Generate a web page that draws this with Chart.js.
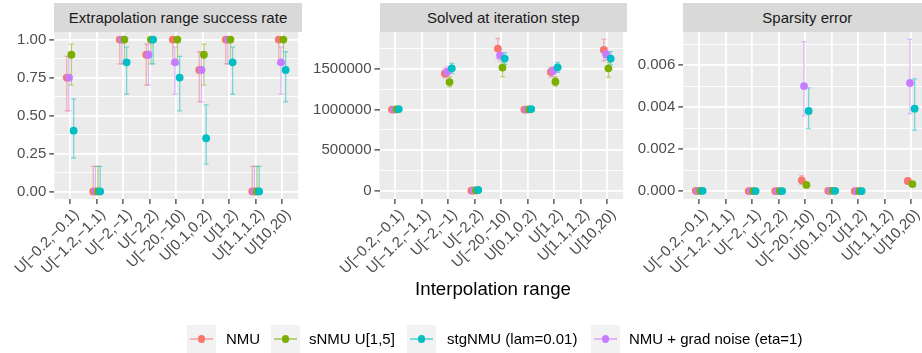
<!DOCTYPE html>
<html><head><meta charset="utf-8">
<script src="https://cdn.jsdelivr.net/npm/chart.js@4.4.1/dist/chart.umd.min.js"></script>
<style>
html,body{margin:0;padding:0;width:922px;height:353px;overflow:hidden;background:#fff;font-family:"Liberation Sans",Arial,sans-serif;}
.panel{position:absolute;top:0;height:353px;}
.strip{position:absolute;top:3px;height:29px;background:#D9D9D9;color:#1A1A1A;font-size:15px;line-height:29px;text-align:center;white-space:nowrap;}
.xtitle{position:absolute;left:0;width:986px;top:277px;text-align:center;font-size:18.7px;color:#000;line-height:24px;}
.key{position:absolute;top:325px;width:29px;height:28px;background:#F2F2F2;}
.key .ln{position:absolute;left:3px;right:3px;top:13.2px;height:1.6px;}
.key .pt{position:absolute;left:10.8px;top:10.3px;width:7.4px;height:7.4px;border-radius:50%;}
.ltxt{position:absolute;top:329px;font-size:15px;line-height:20px;color:#000;white-space:nowrap;}
</style>
</head><body>
<div class="panel" style="left:0;width:302px"><canvas id="c1" width="302" height="353"></canvas></div>
<div class="panel" style="left:302px;width:325px"><canvas id="c2" width="325" height="353"></canvas></div>
<div class="panel" style="left:627px;width:304px"><canvas id="c3" width="304" height="353"></canvas></div>
<div class="strip" style="left:54px;width:248px">Extrapolation range success rate</div>
<div class="strip" style="left:379.5px;width:247.5px">Solved at iteration step</div>
<div class="strip" style="left:683.3px;width:248px">Sparsity error</div>
<div class="xtitle">Interpolation range</div>
<div id="legend"></div>
<script>
// ---------- data ----------
const categories = ['U[\u22120.2,\u22120.1)','U[\u22121.2,\u22121.1)','U[\u22122,\u22121)','U[\u22122,2)','U[\u221220,\u221210)','U[0.1,0.2)','U[1,2)','U[1.1,1.2)','U[10,20)'];
const seriesNames = ['NMU','sNMU U[1,5]','stgNMU (lam=0.01)','NMU + grad noise (eta=1)'];
const seriesColors = ['#F8766D','#7CAE00','#00BFC4','#C77CFF'];

// Panel 1: Extrapolation range success rate
const successNMU   = [0.75, 0, 1, 0.9, 1, 0.8, 1, 0, 1];
const successNMUCI = [[0.53,0.89],[0,0.165],[0.84,1],[0.70,0.97],[0.84,1],[0.59,0.92],[0.84,1],[0,0.165],[0.84,1]];
const successSNMU   = [0.9, 0, 1, 1, 1, 0.9, 1, 0, 1];
const successSNMUCI = [[0.70,0.97],[0,0.165],[0.84,1],[0.84,1],[0.84,1],[0.70,0.97],[0.84,1],[0,0.165],[0.84,1]];
const successStg   = [0.4, 0, 0.85, 1, 0.75, 0.35, 0.85, 0, 0.8];
const successStgCI = [[0.22,0.61],[0,0.165],[0.64,0.95],[0.84,1],[0.53,0.89],[0.18,0.57],[0.64,0.95],[0,0.165],[0.59,0.92]];
const successNoise   = [0.75, 0, 1, 0.9, 0.85, 0.8, 1, 0, 0.85];
const successNoiseCI = [[0.53,0.89],[0,0.165],[0.84,1],[0.70,0.97],[0.64,0.95],[0.59,0.92],[0.84,1],[0,0.165],[0.64,0.95]];
const successTicks = [0, 0.25, 0.5, 0.75, 1];
const successTickLabels = ['0.00','0.25','0.50','0.75','1.00'];

// Panel 2: Solved at iteration step
const solvedNMU   = [1000000, null, 1446000, 2000, 1752000, 1000000, 1463000, null, 1736000];
const solvedNMUCI = [[996000,1004000], null, [1390000,1504000], [0,4000], [1628000,1876000], [996000,1004000], [1400000,1520000], null, [1600000,1868000]];
const solvedSNMU   = [1003000, null, 1339000, 4000, 1517000, 1003000, 1343000, null, 1508000];
const solvedSNMUCI = [[999000,1007000], null, [1280000,1405000], [0,8000], [1405000,1579000], [999000,1007000], [1290000,1400000], null, [1400000,1579000]];
const solvedStg   = [1006000, null, 1508000, 9000, 1628000, 1006000, 1521000, null, 1628000];
const solvedStgCI = [[1002000,1010000], null, [1446000,1570000], [4000,14000], [1558000,1700000], [1002000,1010000], [1460000,1580000], null, [1550000,1715000]];
const solvedNoise   = [1000000, null, 1463000, 3000, 1669000, 1000000, 1475000, null, 1682000];
const solvedNoiseCI = [[996000,1004000], null, [1400000,1525000], [0,6000], [1600000,1736000], [996000,1004000], [1410000,1530000], null, [1610000,1760000]];
const solvedTicks = [0, 500000, 1000000, 1500000];
const solvedTickLabels = ['0','500000','1000000','1500000'];

// Panel 3: Sparsity error
const sparseNMU   = [0.00001, null, 0, 0, 0.00051, 0.00001, 0, null, 0.00048];
const sparseNMUCI = [[0,0.00002], null, [0,0.00001], [0,0.00001], [0.00032,0.00073], [0,0.00002], [0,0.00001], null, [0.00038,0.00058]];
const sparseSNMU   = [0.00001, null, 0, 0, 0.00029, 0.00001, 0, null, 0.00033];
const sparseSNMUCI = [[0,0.00002], null, [0,0.00001], [0,0.00001], [0.00024,0.00034], [0,0.00002], [0,0.00001], null, [0.00028,0.00038]];
const sparseStg   = [0.00001, null, 0, 0, 0.00382, 0.00001, 0, null, 0.00393];
const sparseStgCI = [[0,0.00002], null, [0,0.00001], [0,0.00001], [0.00298,0.00492], [0,0.00002], [0,0.00001], null, [0.00291,0.00535]];
const sparseNoise   = [0.00001, null, 0, 0, 0.00501, 0.00001, 0, null, 0.00516];
const sparseNoiseCI = [[0,0.00002], null, [0,0.00001], [0,0.00001], [0.0036,0.00713], [0,0.00002], [0,0.00001], null, [0.00369,0.00724]];
const sparseTicks = [0, 0.002, 0.004, 0.006];
const sparseTickLabels = ['0.000','0.002','0.004','0.006'];

// ---------- rendering ----------
Chart.defaults.font.family = '"Liberation Sans", Arial, sans-serif';
Chart.defaults.font.size = 15;

// dodge order (left->right): NMU, grad noise, sNMU, stgNMU
const dodge = [-0.13, 0.045, 0.13, -0.045];
const drawOrder = [4, 2, 1, 3]; // lower = on top

function rgba(hex, a){
  const n = parseInt(hex.slice(1),16);
  return `rgba(${n>>16&255},${n>>8&255},${n&255},${a})`;
}

const bgPlugin = {
  id:'panelbg',
  beforeDraw(chart){
    const {ctx, chartArea:a} = chart;
    ctx.save(); ctx.fillStyle = '#EBEBEB';
    ctx.fillRect(a.left, a.top, a.right-a.left, a.bottom-a.top);
    ctx.restore();
  }
};
const errPlugin = {
  id:'errbars',
  beforeDatasetsDraw(chart){
    const {ctx, scales:{x,y}} = chart;
    const metas = chart.getSortedVisibleDatasetMetas().slice().reverse();
    metas.forEach(m => {
      const ds = chart.data.datasets[m.index];
      ctx.save();
      ctx.strokeStyle = rgba(ds.baseColor, 0.5);
      ctx.lineWidth = 1.3;
      ds.errors.forEach(e => {
        const px = x.getPixelForValue(e.x);
        const y1 = y.getPixelForValue(e.lo), y2 = y.getPixelForValue(e.hi);
        ctx.beginPath();
        ctx.moveTo(px, y1); ctx.lineTo(px, y2);
        ctx.moveTo(px-2.4, y1); ctx.lineTo(px+2.4, y1);
        ctx.moveTo(px-2.4, y2); ctx.lineTo(px+2.4, y2);
        ctx.stroke();
      });
      ctx.restore();
    });
  }
};

function makeChart(id, yAxisWidth, yMin, yMax, majors, majorLabels, series, cis){
  const minors = [];
  for (let i=0;i<majors.length;i++){
    const step = majors[1]-majors[0];
    const v = majors[i] + step/2;
    if (v < yMax) minors.push(v);
  }
  const yTicks = majors.concat(minors).sort((a,b)=>a-b);
  const isMajor = v => majors.some(m => Math.abs(m-v) < 1e-12);
  const datasets = series.map((vals, s) => ({
    label: seriesNames[s],
    baseColor: seriesColors[s],
    order: drawOrder[s],
    data: vals.map((v,i)=> v===null?null:{x:i+dodge[s], y:v}).filter(d=>d),
    errors: cis[s].map((c,i)=> c===null?null:{x:i+dodge[s], lo:c[0], hi:c[1]}).filter(d=>d),
    backgroundColor: seriesColors[s],
    borderWidth: 0,
    pointRadius: 3.9,
    pointHoverRadius: 3.9,
    showLine: false
  }));
  return new Chart(document.getElementById(id), {
    type:'scatter',
    data:{datasets},
    plugins:[bgPlugin, errPlugin],
    options:{
      responsive:false, animation:false, events:[],
      layout:{padding:{top:32,left:0,right:0,bottom:0}},
      plugins:{legend:{display:false}, tooltip:{enabled:false}},
      scales:{
        x:{
          type:'linear', min:-0.6, max:8.6,
          afterBuildTicks: s => { s.ticks = categories.map((c,i)=>({value:i})); },
          afterFit: s => { s.height = 154; s.paddingLeft = 0; s.paddingRight = 0; },
          border:{display:false},
          grid:{color:'#FFFFFF', lineWidth:1.8, drawTicks:true, tickLength:5, tickColor:'#333333', tickWidth:1.2},
          ticks:{autoSkip:false, minRotation:45, maxRotation:45, padding:2, labelOffset:6.4, color:'#4D4D4D',
                 callback:(v)=> categories[Math.round(v)] ?? ''}
        },
        y:{
          type:'linear', min:yMin, max:yMax,
          afterBuildTicks: s => { s.ticks = yTicks.map(v=>({value:v})); },
          afterFit: s => { s.width = yAxisWidth; s.paddingTop = 0; s.paddingBottom = 0; },
          border:{display:false},
          grid:{
            color:'#FFFFFF',
            lineWidth: c => (c.tick && isMajor(c.tick.value)) ? 1.8 : 0.9,
            drawTicks:true, tickLength:5,
            tickColor: c => (c.tick && isMajor(c.tick.value)) ? '#333333' : 'rgba(0,0,0,0)',
            tickWidth:1.2
          },
          ticks:{autoSkip:false, padding:3, color:'#4D4D4D',
                 callback:(v)=> { const k = majors.findIndex(m=>Math.abs(m-v)<1e-12); return k>=0 ? majorLabels[k] : ''; }}
        }
      }
    }
  });
}

makeChart('c1', 54.3, -0.05, 1.05, successTicks, successTickLabels,
  [successNMU, successSNMU, successStg, successNoise],
  [successNMUCI, successSNMUCI, successStgCI, successNoiseCI]);
makeChart('c2', 77.5, -102000, 1956000, solvedTicks, solvedTickLabels,
  [solvedNMU, solvedSNMU, solvedStg, solvedNoise],
  [solvedNMUCI, solvedSNMUCI, solvedStgCI, solvedNoiseCI]);
makeChart('c3', 56.3, -0.00038, 0.00759, sparseTicks, sparseTickLabels,
  [sparseNMU, sparseSNMU, sparseStg, sparseNoise],
  [sparseNMUCI, sparseSNMUCI, sparseStgCI, sparseNoiseCI]);

// legend
const keyX = [187, 271, 407, 591];
const txtX = [226, 309, 447, 629];
const lg = document.getElementById('legend');
seriesNames.forEach((n,i)=>{
  const k = document.createElement('div'); k.className='key'; k.style.left = keyX[i]+'px';
  k.innerHTML = `<div class="ln" style="background:${rgba(seriesColors[i],0.5)}"></div><div class="pt" style="background:${seriesColors[i]}"></div>`;
  lg.appendChild(k);
  const t = document.createElement('div'); t.className='ltxt'; t.style.left = txtX[i]+'px'; t.textContent = n;
  lg.appendChild(t);
});
</script>
</body></html>
